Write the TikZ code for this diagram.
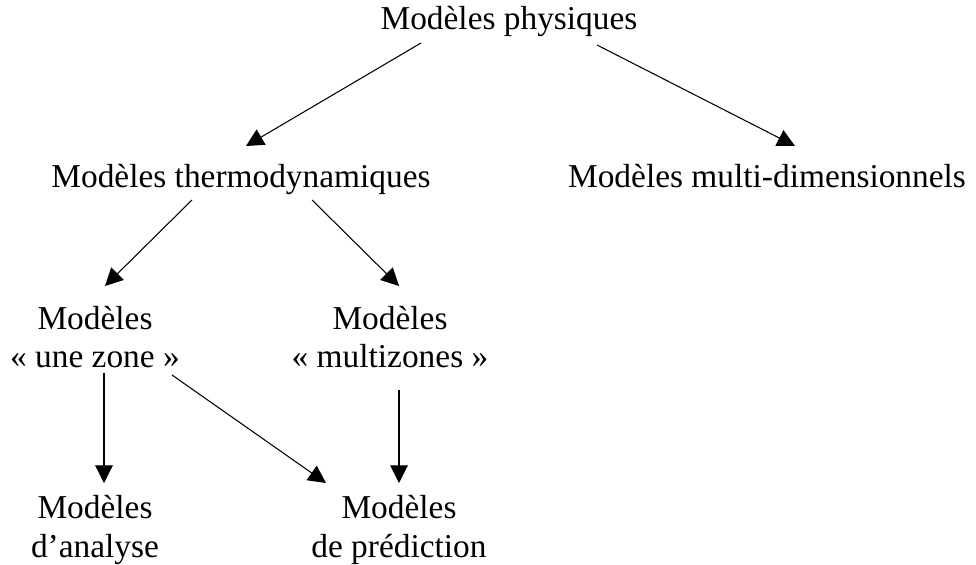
\documentclass[tikz,border=0pt]{standalone}
\usepackage{fontspec}
\setmainfont{Liberation Serif}
\usetikzlibrary{arrows.meta}

\begin{document}
\begin{tikzpicture}[
      x = 0.02cm, y = -0.02cm, % one unit per pixel of the page
      model/.style = {font=\fontsize{19}{22}\selectfont, align=center, inner sep=0pt},
      link/.style = {-{Triangle[length=10pt, width=10pt]}, line width=0.6pt},
      semithick % line style
  ]

\useasboundingbox (0,0) rectangle (976,564);

% the tree of models
\node[model, anchor=base] (phys)   at (509,30)  {Modèles physiques};
\node[model, anchor=base] (thermo) at (241,188) {Modèles thermodynamiques};
\node[model, anchor=base] (multi)  at (767,188) {Modèles multi-dimensionnels};
\node[model] (une)      at (95,337)  {Modèles\\« une zone »};
\node[model] (multiz)   at (390,337) {Modèles\\« multizones »};
\node[model] (analyse)  at (95,530)  {Modèles\\d’analyse};
\node[model] (predict)  at (399,530) {Modèles\\de prédiction};

\draw[link] ([shift={(-88,13)}]phys.base)   -- ([shift={(5,-42)}]thermo.base);
\draw[link] ([shift={(88,15)}]phys.base)    -- ([shift={(28,-42)}]multi.base);
\draw[link] ([shift={(-49,12)}]thermo.base) -- ([shift={(10,-51)}]une.center);
\draw[link] ([shift={(71,12)}]thermo.base)  -- ([shift={(9,-51)}]multiz.center);
\draw[link] ([shift={(9,36)}]une.center)    -- ([shift={(9,-47)}]analyse.center);
\draw[link] ([shift={(77,38)}]une.center)   -- ([shift={(-73,-47)}]predict.center);
\draw[link] ([shift={(9,53)}]multiz.center) -- ([shift={(0,-47)}]predict.center);

\end{tikzpicture}
\end{document}
